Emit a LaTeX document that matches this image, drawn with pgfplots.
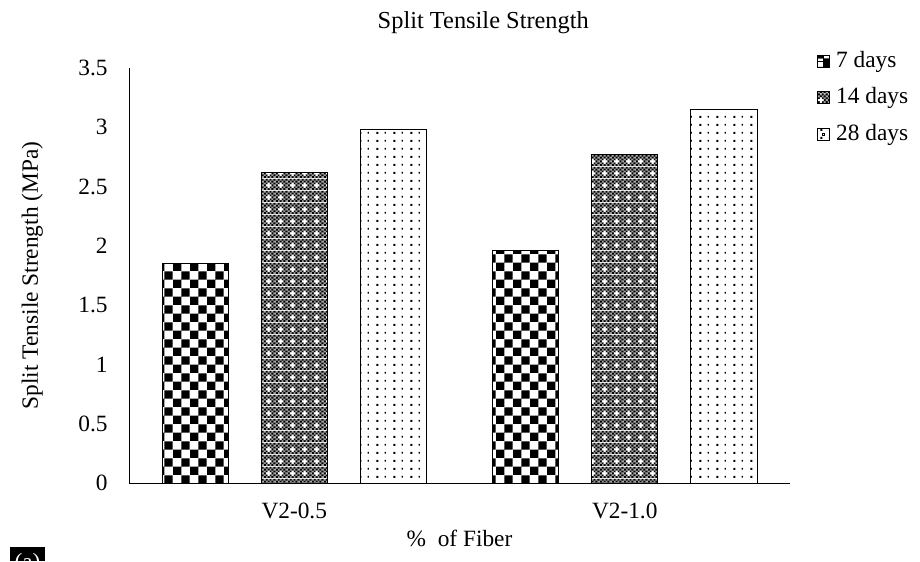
\documentclass[border=0pt]{standalone}
\usepackage{fontspec}
\setmainfont{Liberation Serif}
\usepackage{pgfplots}
\pgfplotsset{compat=1.18}
\usetikzlibrary{patterns}

\pgfdeclarepatternformonly{bigchecker}{\pgfpointorigin}{\pgfqpoint{13pt}{13pt}}{\pgfqpoint{13pt}{13pt}}{%
  \pgfpathrectangle{\pgfpointorigin}{\pgfqpoint{6.5pt}{6.5pt}}%
  \pgfpathrectangle{\pgfqpoint{6.5pt}{6.5pt}}{\pgfqpoint{6.5pt}{6.5pt}}%
  \pgfusepath{fill}}

\pgfdeclarepatterninherentlycolored{finegrid}{\pgfpointorigin}{\pgfqpoint{9pt}{9pt}}{\pgfqpoint{9pt}{9pt}}{%
  \pgfsetfillcolor{black!35}%
  \pgfpathrectangle{\pgfpointorigin}{\pgfqpoint{9pt}{9pt}}%
  \pgfusepath{fill}%
  \pgfsetfillcolor{black}%
  \foreach \i in {0,...,5}{\foreach \j in {0,...,5}{%
    \ifodd\numexpr\i+\j\relax\else
      \pgfpathrectangle{\pgfpoint{\i*1.5pt}{\j*1.5pt}}{\pgfqpoint{1.5pt}{1.5pt}}%
      \pgfusepath{fill}%
    \fi}}%
  \pgfsetfillcolor{white}%
  \pgfpathrectangle{\pgfqpoint{3pt}{1.5pt}}{\pgfqpoint{1.5pt}{4.5pt}}%
  \pgfusepath{fill}%
  \pgfpathrectangle{\pgfqpoint{1.5pt}{3pt}}{\pgfqpoint{4.5pt}{1.5pt}}%
  \pgfusepath{fill}}

\pgfdeclarepatternformonly{sparsedots}{\pgfpointorigin}{\pgfqpoint{12.8pt}{6.2pt}}{\pgfqpoint{12.8pt}{6.2pt}}{%
  \pgfpathrectangle{\pgfqpoint{1pt}{1pt}}{\pgfqpoint{1.6pt}{1.6pt}}%
  \pgfpathrectangle{\pgfqpoint{7.6pt}{1.2pt}}{\pgfqpoint{0.9pt}{1.3pt}}%
  \pgfusepath{fill}}

\begin{document}
\fontsize{17.5}{21}\selectfont
\begin{tikzpicture}[font=\fontsize{17.5}{21}\selectfont]
\useasboundingbox (0,0) rectangle (690pt,420.75pt);
\begin{axis}[
  at={(96.75pt,58.5pt)}, anchor=south west,
  scale only axis, width=495.75pt, height=311.25pt,
  xmin=-0.5, xmax=1.5, ymin=0, ymax=3.5,
  xtick={0,1}, xticklabels={V2-0.5,V2-1.0},
  ytick={0,0.5,1,1.5,2,2.5,3,3.5},
  yticklabels={0,0.5,1,1.5,2,2.5,3,3.5},
  /pgf/number format/assume math mode=true,
  axis x line*=bottom, axis y line*=left,
  axis line style={black, line width=0.6pt, -},
  major tick length=0pt,
  ybar, bar width=0.2,
  yticklabel style={xshift=-10pt},
  xticklabel style={yshift=-9pt},
  xlabel={\%\ \ of Fiber},
  xlabel style={at={(axis description cs:0.5,0)}, anchor=north, yshift=-29.5pt},
  ylabel={Split Tensile Strength (MPa)},
  ylabel style={at={(axis description cs:-0.118,0.5)}, anchor=south},
  title={Split Tensile Strength},
  title style={at={(axis description cs:0.536,1)}, anchor=center, yshift=28pt,
    font=\fontsize{18.3}{22}\selectfont},
  legend cell align=left,
  legend style={at={(1.035,1.054)}, anchor=north west, draw=none, fill=none,
    row sep=8.6pt, font=\fontsize{17.5}{21}\selectfont,
    /tikz/every odd column/.append style={column sep=2.5pt}},
]
\addplot[pattern=bigchecker, draw=black, line width=0.6pt, bar shift=-0.3,
  legend image code/.code={\draw[draw=black, line width=0.6pt] (0pt,-4.5pt) rectangle (9pt,4.5pt);
    \fill (0pt,0pt) rectangle (4.5pt,4.5pt); \fill (4.5pt,-4.5pt) rectangle (9pt,0pt);}]
  coordinates {(0,1.85) (1,1.96)};
\addplot[pattern=finegrid, draw=black, line width=0.6pt, bar shift=0,
  legend image code/.code={\draw[pattern=finegrid, draw=black, line width=0.6pt] (0pt,-4.5pt) rectangle (9pt,4.5pt);}]
  coordinates {(0,2.62) (1,2.77)};
\addplot[pattern=sparsedots, draw=black, line width=0.6pt, bar shift=0.3,
  legend image code/.code={\draw[draw=black, line width=0.6pt] (0pt,-4.5pt) rectangle (9pt,4.5pt); \fill (3.75pt,-0.75pt) rectangle (5.25pt,0.75pt);}]
  coordinates {(0,2.98) (1,3.15)};
\legend{7 days, 14 days, 28 days}
\end{axis}
\fill[black] (7.5pt,0pt) rectangle (33.75pt,10.5pt);
\node[text=white, anchor=north, inner sep=0pt] at (20.6pt,6pt) {(a)};
\end{tikzpicture}
\end{document}
